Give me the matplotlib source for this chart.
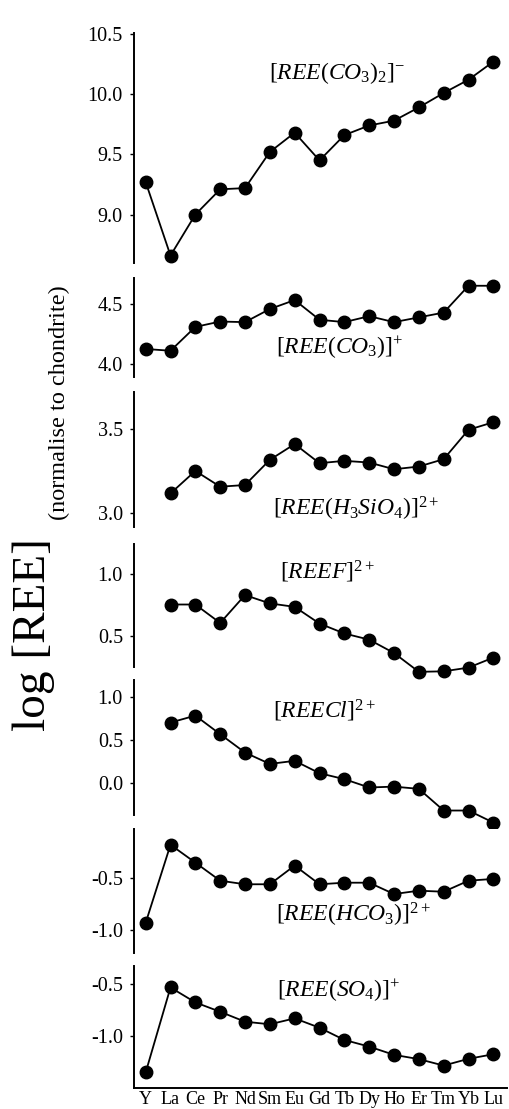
import numpy as np
import matplotlib
matplotlib.use('Agg')
import matplotlib.pyplot as plt

plt.rcParams['font.family'] = ['Liberation Serif', 'DejaVu Serif']
plt.rcParams['mathtext.fontset'] = 'custom'
plt.rcParams['mathtext.rm'] = 'Liberation Serif'
plt.rcParams['mathtext.it'] = 'Liberation Serif:italic'
plt.rcParams['axes.unicode_minus'] = False

elements = ['Y', 'La', 'Ce', 'Pr', 'Nd', 'Sm', 'Eu', 'Gd', 'Tb', 'Dy', 'Ho', 'Er', 'Tm', 'Yb', 'Lu']

# values (None = no point)
ree_co3_2 = [9.27, 8.66, 9.00, 9.21, 9.22, 9.52, 9.68, 9.45, 9.66, 9.74, 9.78, 9.89, 10.01, 10.12, 10.27]
ree_co3 = [4.125, 4.11, 4.31, 4.355, 4.35, 4.46, 4.535, 4.37, 4.35, 4.40, 4.35, 4.39, 4.43, 4.655, 4.655]
ree_h3sio4 = [None, 3.116, 3.25, 3.156, 3.166, 3.316, 3.41, 3.296, 3.31, 3.30, 3.26, 3.276, 3.32, 3.495, 3.54]
ree_f = [None, 0.754, 0.754, 0.605, 0.83, 0.763, 0.735, 0.60, 0.52, 0.47, 0.362, 0.21, 0.214, 0.244, 0.325]
ree_cl = [None, 0.705, 0.786, 0.57, 0.356, 0.224, 0.26, 0.116, 0.047, -0.05, -0.04, -0.066, -0.318, -0.318, -0.458]
ree_hco3 = [-0.93, -0.187, -0.357, -0.529, -0.563, -0.563, -0.385, -0.563, -0.548, -0.548, -0.656, -0.624, -0.634, -0.529, -0.512]
ree_so4 = [-1.353, -0.538, -0.681, -0.771, -0.866, -0.891, -0.834, -0.924, -1.041, -1.105, -1.184, -1.225, -1.287, -1.222, -1.178]

series = [ree_co3_2, ree_co3, ree_h3sio4, ree_f, ree_cl, ree_hco3, ree_so4]
labels = [r'$\mathrm{[}REE(CO_3)_2\mathrm{]}^{-}$',
          r'$\mathrm{[}REE(CO_3)\mathrm{]}^{+}$',
          r'$\mathrm{[}REE(H_3SiO_4)\mathrm{]}^{2+}$',
          r'$\mathrm{[}REEF\mathrm{]}^{2+}$',
          r'$\mathrm{[}REECl\mathrm{]}^{2+}$',
          r'$\mathrm{[}REE(HCO_3)\mathrm{]}^{2+}$',
          r'$\mathrm{[}REE(SO_4)\mathrm{]}^{+}$']
yticks = [[9.0, 9.5, 10.0, 10.5], [4.0, 4.5], [3.0, 3.5], [0.5, 1.0],
          [0.0, 0.5, 1.0], [-1.0, -0.5], [-1.0, -0.5]]
ylims = [(8.598, 10.508), (3.89, 4.72), (2.916, 3.72), (0.249, 1.243),
         (-0.37, 1.2), (-1.217, -0.037), (-1.502, -0.332)]
# panel top / bottom in pixels, label position (x px, y px)
panel_px = [(33, 263), (278, 377), (392, 527), (544, 667), (680, 815), (829, 953), (966, 1088)]
label_px = [(337, 73), (340, 348), (356, 509), (327, 572), (324, 711), (353, 915), (339, 991)]

W, H = 510, 1109
fig = plt.figure(figsize=(W / 100, H / 100), dpi=100)
left, right = 134, 507
x = np.arange(len(elements))

for i in range(7):
    top, bot = panel_px[i]
    ax = fig.add_axes([left / W, 1 - bot / H, (right - left) / W, (bot - top) / H])
    xs = [xx for xx, v in zip(x, series[i]) if v is not None]
    vs = [v for v in series[i] if v is not None]
    ax.plot(xs, vs, '-o', color='black', lw=1.3, ms=9, clip_on=False, zorder=3)
    ax.set_xlim(-0.47, 14.55)
    ax.set_ylim(*ylims[i])
    ax.set_yticks(yticks[i])
    ax.set_yticklabels(['%.1f' % t for t in yticks[i]])
    for s in ['top', 'right']:
        ax.spines[s].set_visible(False)
    ax.spines['left'].set_linewidth(1.4)
    ax.tick_params(axis='y', direction='out', length=3, width=1, labelsize=14.5, pad=5)
    if i < 6:
        ax.spines['bottom'].set_visible(False)
        ax.set_xticks([])
    else:
        ax.spines['bottom'].set_linewidth(1.4)
        ax.set_xticks(x)
        ax.set_xticklabels(elements)
        ax.tick_params(axis='x', length=0, labelsize=13, pad=2)
    lx, ly = label_px[i]
    fig.text(lx / W, 1 - ly / H, labels[i], fontsize=17, ha='center', va='center')

fig.text(34 / W, 1 - 635 / H, 'log [REE]', rotation=90, fontsize=34, ha='center', va='center')
fig.text(59 / W, 1 - 403 / H, '(normalise to chondrite)', rotation=90, fontsize=17.5, ha='center', va='center')

fig.savefig('out.png', dpi=100)
